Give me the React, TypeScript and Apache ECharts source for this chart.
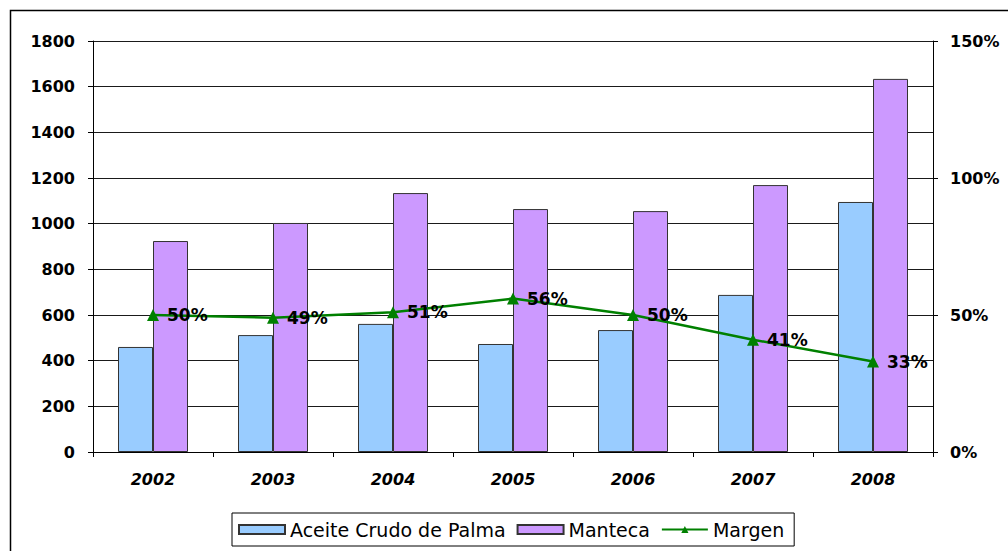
import React, { useEffect, useRef } from "react";
import * as echarts from "echarts";

const years = ["2002", "2003", "2004", "2005", "2006", "2007", "2008"];
const aceite = [460, 512, 561, 473, 534, 688, 1095];
const manteca = [924, 1003, 1134, 1064, 1055, 1169, 1634];
const margen = [0.5, 0.49, 0.51, 0.56, 0.5, 0.41, 0.33];

const FONT = "'DejaVu Sans', Arial, sans-serif";

export default function App() {
  const ref = useRef<HTMLDivElement>(null);
  useEffect(() => {
    const chart = echarts.init(ref.current!, null, { renderer: "svg" });
    chart.setOption({
      animation: false,
      backgroundColor: "#fff",
      textStyle: { fontFamily: FONT },
      graphic: [
        {
          type: "rect",
          shape: { x: 10.5, y: 10.5, width: 1010, height: 560 },
          style: { fill: "none", stroke: "#000", lineWidth: 1.5 },
          silent: true,
        },
      ],
      grid: { left: 93, right: 75, top: 41, bottom: 99, containLabel: false },
      legend: {
        left: 232,
        top: 513,
        itemWidth: 46,
        itemHeight: 9,
        itemGap: 11,
        borderColor: "#000",
        borderWidth: 1,
        borderRadius: 0,
        padding: [7, 10, 7, 6],
        textStyle: { fontFamily: FONT, fontSize: 19, color: "#000" },
        data: [
          { name: "Aceite Crudo de Palma", icon: "rect" },
          { name: "Manteca", icon: "rect" },
          { name: "Margen" },
        ],
      },
      xAxis: {
        type: "category",
        data: years,
        axisLine: { lineStyle: { color: "#000", width: 1 } },
        axisTick: { show: true, length: 5, lineStyle: { color: "#000" } },
        axisLabel: {
          fontFamily: FONT,
          fontSize: 16,
          fontWeight: "bold",
          fontStyle: "italic",
          color: "#000",
          margin: 19,
        },
      },
      yAxis: [
        {
          type: "value",
          min: 0,
          max: 1800,
          interval: 200,
          axisLine: { show: true, lineStyle: { color: "#000" } },
          axisTick: { show: true, length: 5, lineStyle: { color: "#000" } },
          splitLine: { lineStyle: { color: "#1a1a1a", width: 1 } },
          axisLabel: {
            fontFamily: FONT,
            fontSize: 16,
            fontWeight: "bold",
            color: "#000",
            margin: 18,
            formatter: (v: number) => String(v),
          },
        },
        {
          type: "value",
          min: 0,
          max: 1.5,
          interval: 0.5,
          position: "right",
          axisLine: { show: true, lineStyle: { color: "#000" } },
          axisTick: { show: true, length: 5, lineStyle: { color: "#000" } },
          splitLine: { show: false },
          axisLabel: {
            fontFamily: FONT,
            fontSize: 16,
            fontWeight: "bold",
            color: "#000",
            margin: 17,
            formatter: (v: number) => Math.round(v * 100) + "%",
          },
        },
      ],
      series: [
        {
          name: "Aceite Crudo de Palma",
          type: "bar",
          data: aceite,
          barWidth: 35,
          barGap: "0%",
          itemStyle: { color: "#99CCFF", borderColor: "#333", borderWidth: 1 },
        },
        {
          name: "Manteca",
          type: "bar",
          data: manteca,
          barWidth: 35,
          barGap: "0%",
          itemStyle: { color: "#CC99FF", borderColor: "#333", borderWidth: 1 },
        },
        {
          name: "Margen",
          type: "line",
          yAxisIndex: 1,
          data: margen,
          symbol: "triangle",
          symbolSize: 12,
          lineStyle: { color: "#008000", width: 2.5 },
          itemStyle: { color: "#008000" },
          label: {
            show: true,
            position: "right",
            distance: 8,
            fontFamily: FONT,
            fontSize: 17,
            fontWeight: "bold",
            color: "#000",
            formatter: (p: any) => Math.round(p.value * 100) + "%",
          },
          z: 5,
        },
      ],
    });
    return () => chart.dispose();
  }, []);
  return (
    <div
      ref={ref}
      style={{ position: "absolute", left: 0, top: 0, width: 1008, height: 551 }}
    />
  );
}
